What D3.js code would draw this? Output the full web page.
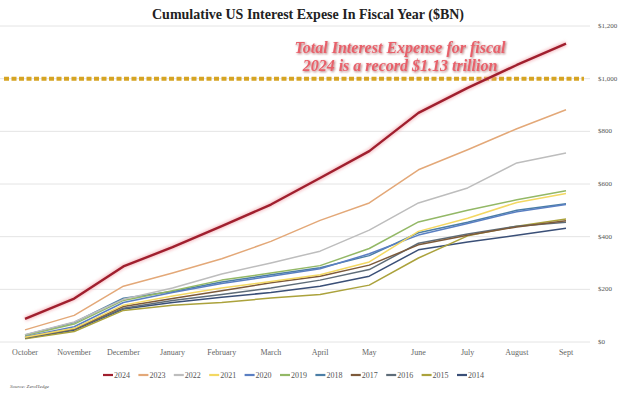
<!DOCTYPE html>
<html>
<head>
<meta charset="utf-8">
<script src="https://cdn.jsdelivr.net/npm/d3@7"></script>
<style>
  body { margin: 0; background: #fff; }
  svg { display: block; }
</style>
</head>
<body>
<script>
// data ($BN, cumulative)
let months = ["October", "November", "December", "January", "February", "March",
  "April", "May", "June", "July", "August", "Sept"];
let years = ["2024", "2023", "2022", "2021", "2020", "2019", "2018", "2017", "2016", "2015", "2014"];
let y2024 = [88, 165, 287, 360, 440, 522, 623, 725, 870, 965, 1052, 1133];
let y2023 = [46, 101, 212, 262, 316, 382, 462, 528, 654, 730, 810, 882];
let y2022 = [28, 76, 162, 205, 258, 300, 345, 425, 528, 585, 680, 718];
let y2021 = [18, 52, 140, 175, 205, 230, 255, 304, 420, 470, 530, 564];
let y2020 = [20, 58, 150, 188, 222, 250, 278, 335, 406, 450, 495, 522];
let y2019 = [25, 68, 158, 195, 235, 262, 290, 355, 456, 500, 540, 574];
let y2018 = [27, 74, 166, 192, 228, 255, 282, 328, 415, 455, 500, 525];
let y2017 = [18, 50, 135, 165, 195, 225, 250, 292, 369, 405, 437, 460];
let y2016 = [15, 48, 128, 158, 180, 205, 235, 275, 375, 410, 440, 455];
let y2015 = [12, 40, 120, 140, 150, 167, 180, 216, 319, 403, 440, 467];
let y2014 = [14, 45, 125, 150, 170, 188, 212, 250, 350, 380, 405, 432];
let yTicks = [0, 200, 400, 600, 800, 1000, 1200];
let record = 1000;

let seriesValues = [y2024, y2023, y2022, y2021, y2020, y2019, y2018, y2017, y2016, y2015, y2014];
let colors = ["#a01f2e", "#e3a878", "#bdbdbd", "#f3d862", "#5a7fc2", "#93b866",
  "#4b7ea6", "#7d5a3a", "#5e6c78", "#aba23c", "#3a4f77"];

let svg = d3.select("body").append("svg")
  .attr("width", 620)
  .attr("height", 396);

let x = d3.scalePoint().domain(months).range([25, 566]);
let y = d3.scaleLinear().domain([0, 1200]).range([342, 26]);

let serif = "'Liberation Serif', 'DejaVu Serif', serif";

// title
svg.append("text")
  .attr("x", 308)
  .attr("y", 19)
  .attr("text-anchor", "middle")
  .attr("font-family", serif)
  .attr("font-weight", "bold")
  .attr("font-size", 14)
  .attr("fill", "#222")
  .text("Cumulative US Interest Expese In Fiscal Year ($BN)");

// gridlines + right axis labels
svg.append("g").selectAll("line")
  .data(yTicks)
  .enter().append("line")
  .attr("x1", 0)
  .attr("x2", 590)
  .attr("y1", d => y(d))
  .attr("y2", d => y(d))
  .attr("stroke", "#e4e4e4")
  .attr("stroke-width", 1);

svg.append("g").selectAll("text")
  .data(yTicks)
  .enter().append("text")
  .attr("x", 598)
  .attr("y", d => y(d) + 2)
  .attr("font-family", serif)
  .attr("font-size", 7)
  .attr("fill", "#555")
  .text(d => "$" + d3.format(",")(d));

// month labels
svg.append("g").selectAll("text")
  .data(months)
  .enter().append("text")
  .attr("x", d => x(d))
  .attr("y", 355)
  .attr("text-anchor", "middle")
  .attr("font-family", serif)
  .attr("font-size", 8)
  .attr("fill", "#666")
  .text(d => d);

// record dashed line at $1,000
svg.append("line")
  .attr("x1", 4)
  .attr("x2", 584)
  .attr("y1", y(record))
  .attr("y2", y(record))
  .attr("stroke", "#d6a423")
  .attr("stroke-width", 4)
  .attr("stroke-dasharray", "5,2.5");

let line = d3.line()
  .x((d, i) => x(months[i]))
  .y(d => y(d));

let defs = svg.append("defs");
defs.append("filter")
  .attr("id", "glow")
  .attr("x", "-10%").attr("y", "-10%")
  .attr("width", "120%").attr("height", "120%")
  .append("feGaussianBlur")
  .attr("stdDeviation", 1.5);

let shadow = defs.append("filter")
  .attr("id", "shadow")
  .attr("x", "-5%").attr("y", "-20%")
  .attr("width", "110%").attr("height", "140%");
shadow.append("feDropShadow")
  .attr("dx", 1)
  .attr("dy", 1)
  .attr("stdDeviation", 0.8)
  .attr("flood-color", "#7a1a22")
  .attr("flood-opacity", 0.6);

// draw oldest first so 2024 ends on top
let order = d3.range(years.length).reverse();

// soft pink halo under 2024
svg.append("path")
  .attr("d", line(y2024))
  .attr("fill", "none")
  .attr("stroke", "#f2a0a8")
  .attr("stroke-width", 5)
  .attr("opacity", 0.6)
  .attr("filter", "url(#glow)");

svg.append("g").selectAll("path")
  .data(order)
  .enter().append("path")
  .attr("d", i => line(seriesValues[i]))
  .attr("fill", "none")
  .attr("stroke", i => colors[i])
  .attr("stroke-width", i => i == 0 ? 2.4 : 1.5)
  .attr("stroke-linejoin", "round");

// annotation
let note = svg.append("text")
  .attr("text-anchor", "middle")
  .attr("font-family", serif)
  .attr("font-weight", "bold")
  .attr("font-style", "italic")
  .attr("font-size", 16)
  .attr("fill", "#e8606a")
  .attr("filter", "url(#shadow)");

note.append("tspan").attr("x", 400).attr("y", 53).text("Total Interest Expense for fiscal");
note.append("tspan").attr("x", 400).attr("y", 71).text("2024 is a record $1.13 trillion");

// legend
let legend = svg.append("g")
  .attr("transform", "translate(103, 375)");

let item = legend.selectAll("g")
  .data(years)
  .enter().append("g")
  .attr("transform", (d, i) => `translate(${i * 35.4}, 0)`);

item.append("line")
  .attr("x1", 0)
  .attr("x2", 10)
  .attr("stroke", (d, i) => colors[i])
  .attr("stroke-width", 2.2);

item.append("text")
  .attr("x", 11)
  .attr("y", 3)
  .attr("font-family", serif)
  .attr("font-size", 8)
  .attr("fill", "#555")
  .text(d => d);

// source
svg.append("text")
  .attr("x", 10)
  .attr("y", 388)
  .attr("font-family", serif)
  .attr("font-style", "italic")
  .attr("font-size", 5)
  .attr("fill", "#555")
  .text("Source: ZeroHedge");
</script>
</body>
</html>
